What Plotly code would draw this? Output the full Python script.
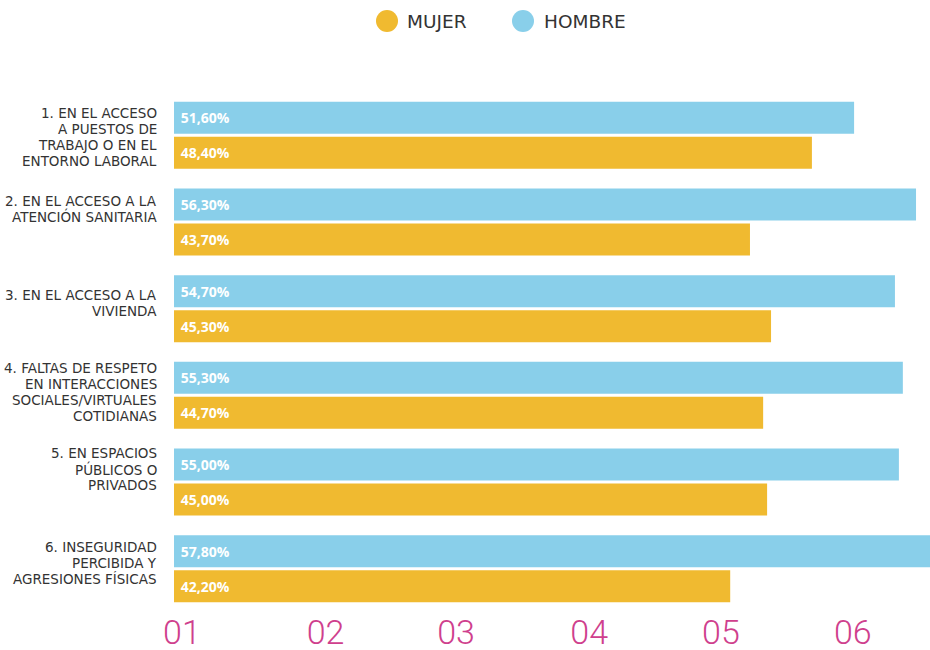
import plotly.graph_objects as go

categories = [
    "1. EN EL ACCESO<br>A PUESTOS DE<br>TRABAJO O EN EL<br>ENTORNO LABORAL",
    "2. EN EL ACCESO A LA<br>ATENCIÓN SANITARIA",
    "3. EN EL ACCESO A LA<br>VIVIENDA",
    "4. FALTAS DE RESPETO<br>EN INTERACCIONES<br>SOCIALES/VIRTUALES<br>COTIDIANAS",
    "5. EN ESPACIOS<br>PÚBLICOS O<br>PRIVADOS",
    "6. INSEGURIDAD<br>PERCIBIDA Y<br>AGRESIONES FÍSICAS",
]
hombre = [51.6, 56.3, 54.7, 55.3, 55.0, 57.8]
mujer = [48.4, 43.7, 45.3, 44.7, 45.0, 42.2]
tick_labels = ["01", "02", "03", "04", "05", "06"]
tick_positions = [0.6, 11.5, 21.4, 31.5, 41.5, 51.5]

BLUE = "#89CFEA"
YELLOW = "#F0BA30"
PINK = "#CF3F8D"
DARK = "#333333"

W, H = 930, 650
ML, MR, MT, MB = 174, 0, 92, 38
PX_PER_UNIT = 13.18
x_max = (W - ML - MR) / PX_PER_UNIT

cat_ids = list(range(len(categories)))


def fmt(v):
    return "\u00a0" + f"{v:.2f}".replace(".", ",") + "%"


fig = go.Figure()
for vals, col, name in [(hombre, BLUE, "HOMBRE"), (mujer, YELLOW, "MUJER")]:
    fig.add_trace(go.Bar(
        y=cat_ids, x=vals, orientation="h", name=name,
        marker=dict(color=col, line=dict(width=0)),
        text=[fmt(v) for v in vals], textposition="inside",
        insidetextanchor="start",
        textfont=dict(color="white", size=14, family="Open Sans", weight="bold"),
        showlegend=False, hoverinfo="skip",
    ))

# category labels: one annotation per line for tight line spacing
first_line_offset = [-22, -21.5, -13.2, -27, -28.7, -21.7]  # px from category centre
LINE_STEP = 15.8
for i, (c, off) in enumerate(zip(categories, first_line_offset)):
    for k, line in enumerate(c.split("<br>")):
        fig.add_annotation(
            x=0, xref="paper", xanchor="right", xshift=-15,
            y=i, yref="y", yanchor="middle", yshift=-(off + k * LINE_STEP),
            text=line, showarrow=False, align="right",
            font=dict(size=13.5, color=DARK, family="DejaVu Sans"),
        )

# legend drawn manually with large circles
plot_w = W - ML - MR
plot_h = H - MT - MB


def px_to_paper_x(px):
    return (px - ML) / plot_w


def py_to_paper_y(py):
    return (H - MB - py) / plot_h


legend_items = [("MUJER", YELLOW, 387, 405), ("HOMBRE", BLUE, 523, 542)]
for name, col, cx, tx in legend_items:
    r = 11
    fig.add_shape(
        type="circle", xref="paper", yref="paper",
        x0=px_to_paper_x(cx - r), x1=px_to_paper_x(cx + r),
        y0=py_to_paper_y(21 + r), y1=py_to_paper_y(21 - r),
        fillcolor=col, line=dict(width=0),
    )
    fig.add_annotation(
        x=px_to_paper_x(tx), xref="paper", xanchor="left",
        y=py_to_paper_y(21), yref="paper", yanchor="middle",
        text=name, showarrow=False,
        font=dict(size=18.5, color=DARK, family="DejaVu Sans"),
    )

fig.update_layout(
    width=W, height=H,
    margin=dict(l=ML, r=MR, t=MT, b=MB),
    paper_bgcolor="white", plot_bgcolor="white",
    barmode="group", bargap=0.193, bargroupgap=0.086,
    showlegend=False,
    xaxis=dict(
        range=[0, x_max], showgrid=False, zeroline=False, showline=False,
        tickmode="array", tickvals=tick_positions, ticktext=tick_labels,
        tickfont=dict(size=34, color=PINK, family="Roboto", weight=300),
        ticklabelstandoff=-3,
        ticks="", automargin=False, fixedrange=True,
    ),
    yaxis=dict(
        range=[len(categories) - 0.5, -0.5], showgrid=False, zeroline=False,
        showline=False, showticklabels=False, ticks="", automargin=False,
        fixedrange=True,
    ),
)

fig.write_html(
    "out.html",
    config={"displayModeBar": False, "staticPlot": True},
    post_script="document.body.style.margin='0';document.body.style.overflow='hidden';",
)
